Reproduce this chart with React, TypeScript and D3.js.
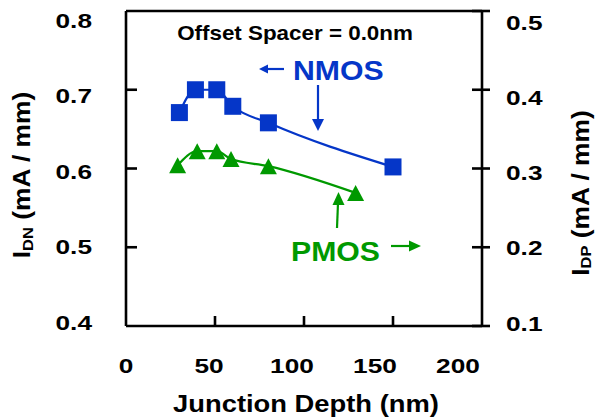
import React from "react";
import * as d3 from "d3";

const nmosX = [30, 39, 51, 60, 80, 150];
const nmosY = [0.671, 0.7, 0.7, 0.679, 0.658, 0.602];
const pmosX = [29, 40, 51, 59, 80, 129];
const pmosY = [0.304, 0.322, 0.322, 0.312, 0.303, 0.269];
const xTicks = [0, 50, 100, 150, 200];
const yLeftTicks = [0.4, 0.5, 0.6, 0.7, 0.8];
const yRightTicks = [0.1, 0.2, 0.3, 0.4, 0.5];

const BLUE = "#0536c8";
const GREEN = "#009900";
const FONT = "'Liberation Sans', Arial, sans-serif";

function T({ x, y, anchor = "middle", size = 21, sx = 1.2, fill = "#000", children, rotate = 0 }: any) {
  return (
    <text
      transform={`translate(${x},${y}) rotate(${rotate}) scale(${sx},1)`}
      textAnchor={anchor}
      fontSize={size}
      fontWeight="bold"
      fontFamily={FONT}
      fill={fill}
    >
      {children}
    </text>
  );
}

export default function App() {
  const x = d3.scaleLinear().domain([0, 200]).range([126, 482]);
  const yL = d3.scaleLinear().domain([0.4, 0.8]).range([326, 11]);
  const yR = d3.scaleLinear().domain([0.1, 0.5]).range([326, 11]);
  // tick label placement scales (labels in the original are slightly offset from ticks)
  const xLab = d3.scaleLinear().domain([0, 200]).range([126, 458]);
  const yLLab = d3.scaleLinear().domain([0.4, 0.8]).range([322, 20]);
  const yRLab = d3.scaleLinear().domain([0.1, 0.5]).range([323, 22]);

  const nPts = nmosX.map((v, i) => [x(v), yL(nmosY[i])] as [number, number]);
  const pPts = pmosX.map((v, i) => [x(v), yR(pmosY[i])] as [number, number]);
  const line = d3.line().curve(d3.curveMonotoneX);

  const tickSize = 21;
  const capOff = tickSize * 0.716 / 2;
  const sq = 17;
  const triW = 17, triH = 16;

  return (
    <svg width={595} height={419} style={{ position: "absolute", left: 0, top: 0, background: "#fff" }}>
      {/* frame */}
      <g stroke="#000" strokeWidth={2.6} fill="none">
        <line x1={x(0)} x2={x(200)} y1={yL(0.8)} y2={yL(0.8)} />
        <line x1={x(0)} x2={x(200)} y1={yL(0.4)} y2={yL(0.4)} />
        <line x1={x(0)} x2={x(0)} y1={yL(0.8)} y2={yL(0.4)} />
        <line x1={x(200)} x2={x(200)} y1={yL(0.8)} y2={yL(0.4)} />
        {yLeftTicks.slice(1, -1).map((t) => (
          <line key={"l" + t} x1={x(0)} x2={x(0) + 11} y1={yL(t)} y2={yL(t)} />
        ))}
        {yRightTicks.map((t) => (
          <line key={"r" + t} x1={x(200) - 10} x2={x(200) + 8} y1={yR(t)} y2={yR(t)} />
        ))}
        {xTicks.slice(1, -1).map((t) => (
          <line key={"b" + t} x1={x(t)} x2={x(t)} y1={yL(0.4)} y2={yL(0.4) - 10} />
        ))}
      </g>

      {/* tick labels */}
      {yLeftTicks.map((t) => (
        <T key={"yl" + t} x={92} y={yLLab(t) + capOff} anchor="end" size={tickSize} sx={1.25}>
          {t.toFixed(1)}
        </T>
      ))}
      {yRightTicks.map((t) => (
        <T key={"yr" + t} x={506} y={yRLab(t) + capOff} anchor="start" size={tickSize} sx={1.25}>
          {t.toFixed(1)}
        </T>
      ))}
      {xTicks.map((t) => (
        <T key={"x" + t} x={xLab(t)} y={365 + capOff} size={tickSize} sx={1.25}>
          {String(t)}
        </T>
      ))}

      {/* axis titles */}
      <T x={306} y={412} size={24} sx={1.14}>Junction Depth (nm)</T>
      <T x={30} y={175} size={24} sx={1.1} rotate={-90}>
        I<tspan fontSize={15} dy={3}>DN</tspan>
        <tspan dy={-3}> (mA / mm)</tspan>
      </T>
      <T x={589} y={193} size={24} sx={1.1} rotate={-90}>
        I<tspan fontSize={15} dy={2}>DP</tspan>
        <tspan dy={-2}> (mA / mm)</tspan>
      </T>

      <T x={295} y={40} size={20} sx={1.12}>Offset Spacer = 0.0nm</T>

      {/* series lines */}
      <path d={line(nPts) || ""} fill="none" stroke={BLUE} strokeWidth={2.2} />
      <path d={line(pPts) || ""} fill="none" stroke={GREEN} strokeWidth={2.2} />

      {/* markers */}
      {nPts.map(([cx, cy], i) => (
        <rect key={"n" + i} x={cx - sq / 2} y={cy - sq / 2} width={sq} height={sq} fill={BLUE} />
      ))}
      {pPts.map(([cx, cy], i) => (
        <path
          key={"p" + i}
          d={`M${cx},${cy - triH / 2}L${cx + triW / 2},${cy + triH / 2}L${cx - triW / 2},${cy + triH / 2}Z`}
          fill={GREEN}
        />
      ))}

      {/* annotations */}
      <T x={293} y={80} anchor="start" size={27} sx={1.12} fill={BLUE}>NMOS</T>
      <g stroke={BLUE} strokeWidth={2.2} fill={BLUE}>
        <line x1={284} x2={266} y1={69} y2={69} />
        <path d="M259,69L268,64.5L268,73.5Z" stroke="none" />
        <line x1={318} x2={318} y1={85} y2={120} />
        <path d="M318,131L312,119L324,119Z" stroke="none" />
      </g>
      <T x={291} y={261} anchor="start" size={27} sx={1.12} fill={GREEN}>PMOS</T>
      <g stroke={GREEN} strokeWidth={2.2} fill={GREEN}>
        <line x1={391} x2={410} y1={246} y2={246} />
        <path d="M421,246L409,240.5L409,251.5Z" stroke="none" />
        <line x1={337} x2={338} y1={228} y2={203} />
        <path d="M338.5,192L332.5,205L344.5,205Z" stroke="none" />
      </g>
    </svg>
  );
}
